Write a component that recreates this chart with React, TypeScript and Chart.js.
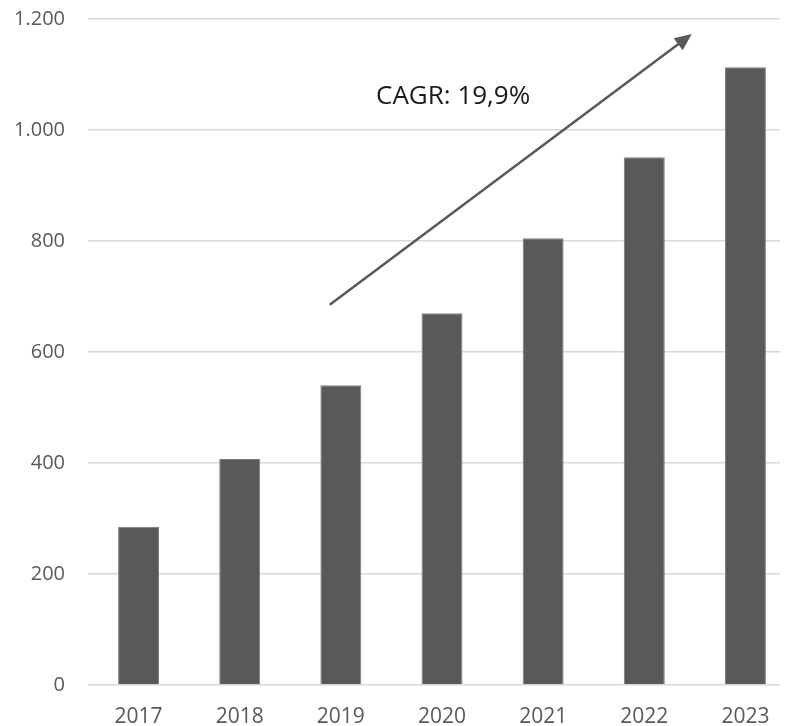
import React, { useEffect, useRef } from "react";
import { Chart, registerables } from "chart.js";
Chart.register(...registerables);

const years = ["2017", "2018", "2019", "2020", "2021", "2022", "2023"];
const values = [285, 407, 540, 670, 805, 951, 1113];
const yTickValues = [0, 200, 400, 600, 800, 1000, 1200];
const cagrText = "CAGR: 19,9%";
// annotation anchors in data units (category index, value)
const arrowFrom = { x: 1.89, y: 685 };
const arrowTo = { x: 5.47, y: 1173 };
const cagrAt = { x: 3.11, y: 1061 };

const FONT = "'Open Sans', 'Noto Sans', sans-serif";

function fmt(v: number): string {
  const s = Math.round(v).toString();
  return s.replace(/\B(?=(\d{3})+(?!\d))/g, ".");
}

const annotationPlugin = {
  id: "cagrArrow",
  afterDatasetsDraw(chart: any) {
    const { ctx, scales } = chart;
    const xs = scales.x;
    const ys = scales.y;
    const x1 = xs.getPixelForValue(arrowFrom.x);
    const y1 = ys.getPixelForValue(arrowFrom.y);
    const x2 = xs.getPixelForValue(arrowTo.x);
    const y2 = ys.getPixelForValue(arrowTo.y);
    const ang = Math.atan2(y2 - y1, x2 - x1);
    const headLen = 17;
    const headHalf = 7.5;
    ctx.save();
    ctx.strokeStyle = "#595959";
    ctx.fillStyle = "#595959";
    ctx.lineWidth = 2.5;
    ctx.beginPath();
    ctx.moveTo(x1, y1);
    ctx.lineTo(x2 - Math.cos(ang) * (headLen - 2), y2 - Math.sin(ang) * (headLen - 2));
    ctx.stroke();
    const bx = x2 - Math.cos(ang) * headLen;
    const by = y2 - Math.sin(ang) * headLen;
    ctx.beginPath();
    ctx.moveTo(x2, y2);
    ctx.lineTo(bx + Math.sin(ang) * headHalf, by - Math.cos(ang) * headHalf);
    ctx.lineTo(bx - Math.sin(ang) * headHalf, by + Math.cos(ang) * headHalf);
    ctx.closePath();
    ctx.fill();
    ctx.fillStyle = "#1a1a1a";
    ctx.font = `26px ${FONT}`;
    ctx.textAlign = "center";
    ctx.textBaseline = "middle";
    ctx.fillText(cagrText, xs.getPixelForValue(cagrAt.x), ys.getPixelForValue(cagrAt.y));
    ctx.restore();
  },
};

export default function App() {
  const ref = useRef<HTMLCanvasElement | null>(null);
  useEffect(() => {
    const prevOverflow = document.body.style.overflow;
    document.body.style.overflow = "hidden";
    if (!ref.current) return;
    const chart = new Chart(ref.current, {
      type: "bar",
      data: {
        labels: years,
        datasets: [
          {
            data: values,
            backgroundColor: "#595959",
            borderColor: "#7a7a7a",
            borderWidth: 1,
            barPercentage: 0.405,
            categoryPercentage: 1,
          },
        ],
      },
      options: {
        animation: false,
        responsive: false,
        maintainAspectRatio: false,
        layout: { padding: { top: 11, right: 0, left: 0, bottom: 0 } },
        plugins: { legend: { display: false }, tooltip: { enabled: false } },
        scales: {
          x: {
            grid: { display: false },
            border: { display: false },
            ticks: {
              color: "#595959",
              font: { family: FONT, size: 21 },
              padding: 11,
              maxRotation: 0,
            },
            afterFit: (s: any) => {
              s.height = 41;
              s.paddingLeft = 0;
              s.paddingRight = 0;
            },
          },
          y: {
            min: 0,
            max: 1200,
            afterBuildTicks: (s: any) => {
              s.ticks = yTickValues.map((v) => ({ value: v }));
            },
            grid: { color: "#d9d9d9", lineWidth: 1.5, drawTicks: false },
            border: { display: false },
            ticks: {
              color: "#595959",
              font: { family: FONT, size: 20 },
              padding: 23,
              callback: (v: any) => fmt(Number(v)),
            },
            afterFit: (s: any) => {
              s.width = 80;
              s.paddingTop = 0;
              s.paddingBottom = 0;
            },
          },
        },
      },
      plugins: [annotationPlugin],
    });
    return () => {
      chart.destroy();
      document.body.style.overflow = prevOverflow;
    };
  }, []);
  return (
    <div style={{ width: 788, height: 718, overflow: "hidden" }}>
      <canvas ref={ref} width={788} height={718} style={{ display: "block" }} />
    </div>
  );
}
